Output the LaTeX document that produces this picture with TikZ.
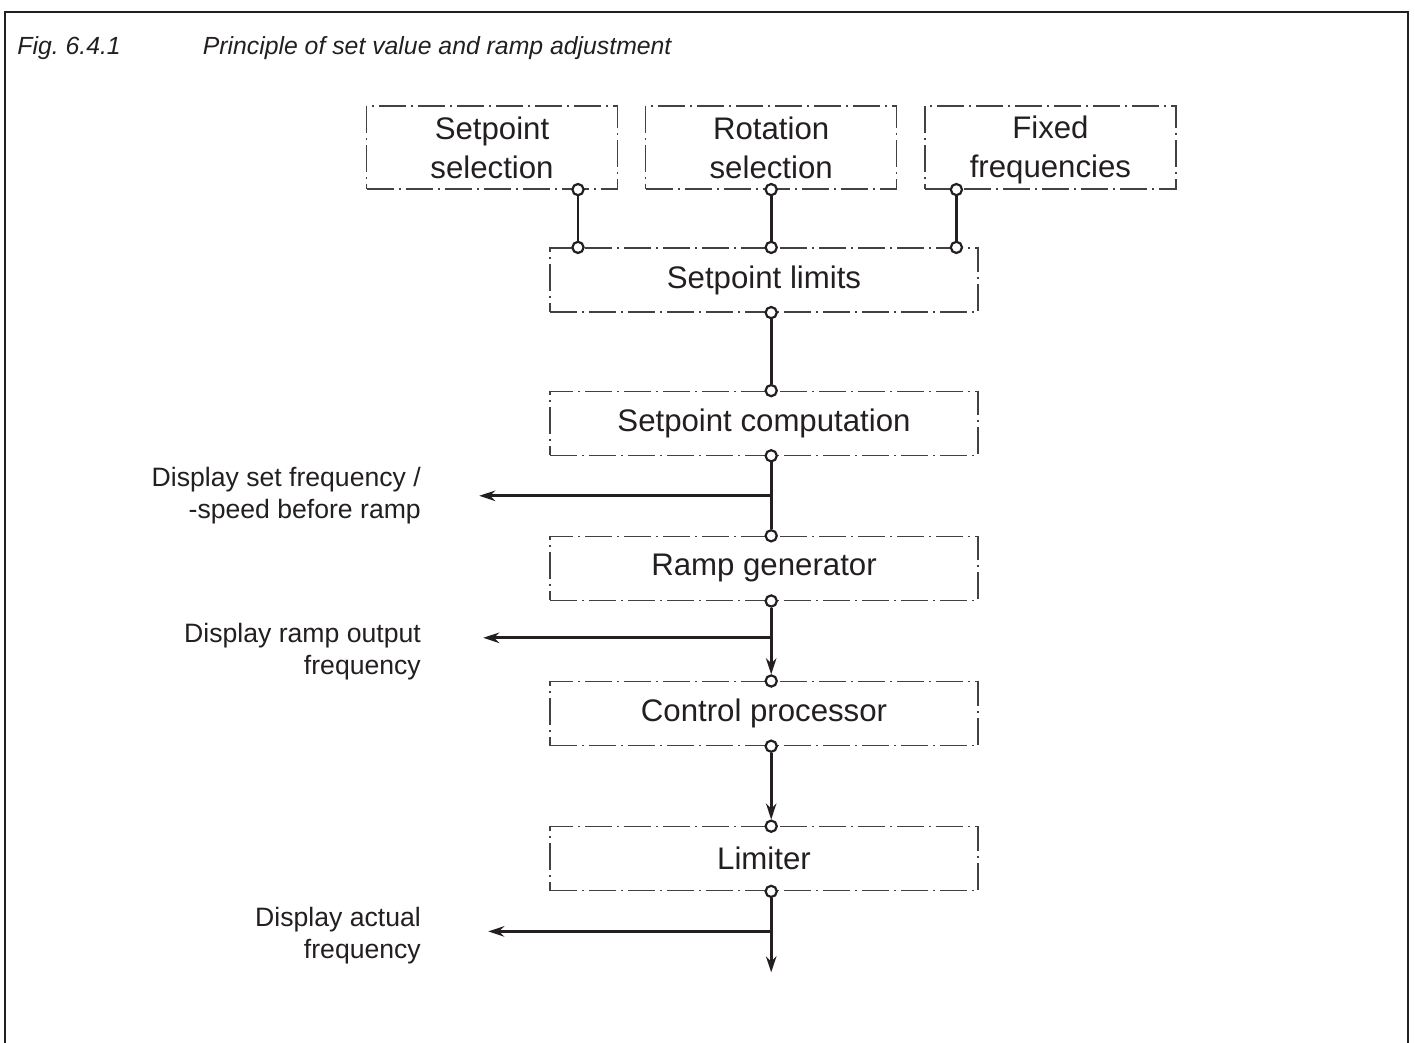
\documentclass[tikz,border=0pt]{standalone}
\usepackage{fontspec}
\setmainfont{Liberation Sans}
\usetikzlibrary{arrows.meta,positioning,calc}
\definecolor{ink}{HTML}{231F20}
\frenchspacing

\begin{document}
\begin{tikzpicture}[x=0.5pt,y=-0.5pt,>={Stealth[length=8pt,width=5.2pt,inset=2.6pt]},
  node distance=40pt and 13.5pt,
  every node/.style={text=ink},
  dbox/.style={draw=ink!85,line width=.6pt,
    dash pattern=on 13.5pt off 2.5pt on 1pt off 2.5pt,
    align=center,inner sep=0pt,font=\fontsize{15.6}{19.5}\selectfont},
  inbox/.style={dbox,minimum width=125.5pt,minimum height=41.5pt},
  stagebox/.style={dbox,minimum width=214pt,minimum height=32pt},
  port/.style={circle,draw=ink,fill=white,line width=1.1pt,inner sep=0pt,
    minimum size=5.6pt},
  conn/.style={draw=ink,line width=1.45pt},
  lbl/.style={align=right,inner sep=0pt,font=\fontsize{13.3}{16}\selectfont}]
 \useasboundingbox (0,0) rectangle (1415,1043);
 % frame, open at the bottom
 \draw[ink,line width=1pt] (4.5,1043) -- (4.5,12.5) -- (1408,12.5) -- (1408,1043);
 \node[anchor=base west,inner sep=0pt,font=\fontsize{12.4}{15}\selectfont\itshape]
   (title) at (17,55) {Fig. 6.4.1\hspace{41pt}Principle of set value and ramp adjustment};
 % input blocks
 \node[inbox] (sel) at (492,147.5) {Setpoint\\selection};
 \node[inbox,right=of sel] (rot) {Rotation\\selection};
 \node[inbox,right=of rot] (fix) {\strut Fixed\\frequencies\vphantom{q}};
 % processing chain
 \node[stagebox] (lim) at (764,280) {Setpoint limits};
 \node[stagebox,below=39pt of lim] (comp) {Setpoint computation};
 \node[stagebox,below=of comp] (ramp) {Ramp generator};
 \node[stagebox,below=of ramp] (ctrl) {Control processor};
 \node[stagebox,below=of ctrl] (clip) {Limiter};
 % ports
 \node[port] (selO) at ([xshift=43pt]sel.south) {};
 \node[port] (rotO) at (rot.south) {};
 \node[port] (fixO) at ([xshift=-47pt]fix.south) {};
 \node[port] (limI1) at (selO |- lim.north) {};
 \node[port] (limI2) at (rotO |- lim.north) {};
 \node[port] (limI3) at (fixO |- lim.north) {};
 \node[port] (limO) at (rotO |- lim.south) {};
 \node[port] (compI) at (rotO |- comp.north) {};
 \node[port] (compO) at (rotO |- comp.south) {};
 \node[port] (rampI) at (rotO |- ramp.north) {};
 \node[port] (rampO) at (rotO |- ramp.south) {};
 \node[port] (ctrlI) at (rotO |- ctrl.north) {};
 \node[port] (ctrlO) at (rotO |- ctrl.south) {};
 \node[port] (clipI) at (rotO |- clip.north) {};
 \node[port] (clipO) at (rotO |- clip.south) {};
 % taps and free ends
 \coordinate (tap1) at ($(compO)!.5!(rampI)$);
 \coordinate (tap2) at ($(rampO)!.46!(ctrlI)$);
 \coordinate (tap3) at ([yshift=-20pt]clipO.center);
 \coordinate (out1) at ([xshift=-146pt]tap1);
 \coordinate (out2) at ([xshift=-144pt]tap2);
 \coordinate (out3) at ([xshift=-141.5pt]tap3);
 \coordinate (tail) at ([yshift=-40.5pt]clipO.center);
 % connectors
 \draw[conn] (selO) -- (limI1);
 \draw[conn] (rotO) -- (limI2);
 \draw[conn] (fixO) -- (limI3);
 \draw[conn] (limO) -- (compI);
 \draw[conn] (compO) -- (rampI);
 \draw[conn,->] (rampO) -- (ctrlI);
 \draw[conn,->] (ctrlO) -- (clipI);
 \draw[conn,->] (clipO) -- (tail);
 \draw[conn,->] (tap1) -- (out1);
 \draw[conn,->] (tap2) -- (out2);
 \draw[conn,->] (tap3) -- (out3);
 % display labels
 \node[lbl,left=29pt of out1] (lbl1) {Display set frequency /\\-speed before ramp};
 \node[lbl,left=31pt of out2,yshift=-7pt] (lbl2) {Display ramp output\\frequency};
 \node[lbl,left=33.5pt of out3,yshift=-2pt] (lbl3) {Display actual\\frequency};
\end{tikzpicture}
\end{document}
